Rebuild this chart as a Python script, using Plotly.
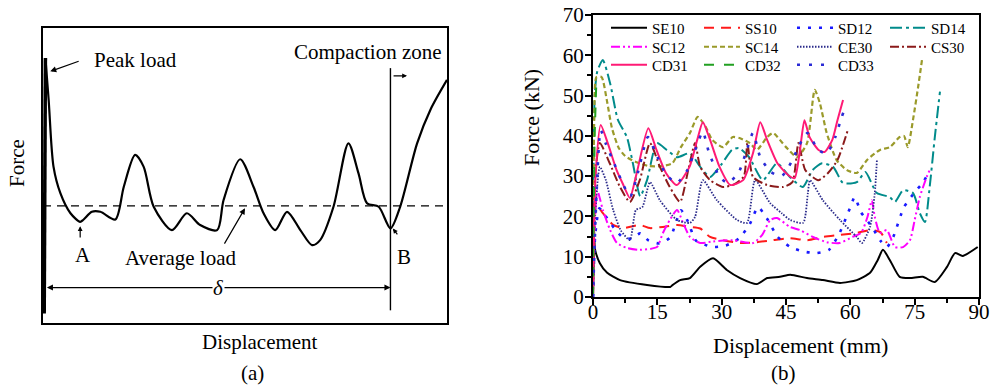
import plotly.graph_objects as go

# ---------------- Panel (a): schematic force-displacement curve ----------------
a_rise_x = [0.3, 0.6]
a_rise_y = [3.2, 89.8]
a_x = [0.6, 1.4, 2.6, 4.3, 6.8, 9.2, 10.0, 12.1, 14.2, 17.9, 20.0, 22.8, 24.9, 27.4, 31.9,
       35.6, 38.9, 43.1, 44.7, 48.8, 52.1, 54.6, 57.5, 60.4, 63.7, 66.6, 68.6, 71.9, 75.6,
       78.1, 80.2, 83.1, 86.0, 88.4, 92.6, 95.9, 100.0]
a_y = [89.8, 75.6, 53.0, 44.0, 37.2, 34.3, 35.0, 37.7, 37.7, 35.1, 46.2, 57.0, 53.0, 39.4, 31.5,
       37.2, 33.2, 31.5, 41.7, 55.5, 46.2, 37.2, 31.5, 37.7, 31.5, 26.4, 28.1, 39.4, 60.9,
       50.7, 40.6, 39.4, 32.1, 39.4, 60.9, 72.3, 82.4]
avg_load = 39.7
compaction_x = 86.0
delta_y = 12.0

# ---------------- Panel (b): measured curves ----------------
SE10_x = [0, 0.3, 0.5, 1.6, 3.3, 6.3, 12.6, 18, 18.6, 20.3, 22.6, 25, 28, 31.2, 34.3, 38.2, 40.6,
          43.6, 46, 49.9, 53.6, 57.6, 61.5, 64.6, 66.4, 67.6, 69.2, 71.5, 73.9, 76.9, 79.7, 82.5,
          84.4, 86.2, 89.7]
SE10_y = [0, 14, 11.7, 8.4, 6, 4.2, 3, 2.5, 3, 4.2, 4.7, 7.5, 9.6, 6.7, 4.7, 3.2, 4.7,
          5, 5.5, 4.7, 4.2, 3.5, 4.2, 6, 9.2, 11.7, 9.2, 5, 4.7, 5, 3.7, 7.4,
          10.9, 10.2, 12.4]

SS10_x = [0, 0.5, 2.3, 4.7, 7, 10.9, 13.3, 16.3, 19.6, 22.6, 25, 27.3, 30.3, 34.3, 38.2, 41.9,
          45.9, 49.9, 53.6, 57.6, 61.5, 64.6, 67, 68.5]
SS10_y = [0, 23.3, 20.8, 17.9, 17.1, 17.9, 17.1, 17.4, 17.9, 17.4, 17, 14.9, 14.1, 13.4, 13.6, 14.1,
          14.6, 14.1, 14.9, 15.4, 15.9, 16.6, 16.1, 13.4]

SD12_x = [0, 0.5, 1.5, 3, 5, 7, 9, 11, 13, 15.5, 18, 20.5, 22, 24, 26, 28, 31, 34, 36.5, 38.5,
          40.5, 43, 46, 49, 52, 55, 57.5, 60, 61, 62.5, 65, 67, 68.5, 70, 72.5, 75, 77, 78.5]
SD12_y = [0, 15, 22, 20, 17, 14.8, 14.5, 15.8, 14, 13.3, 14.8, 21.5, 19, 14, 13, 12.4, 12.8, 14.5, 18, 22.3,
          19.6, 15, 12.4, 11.3, 10.9, 11.7, 15.9, 22.3, 24.8, 21, 17.5, 14, 12.4, 14.9, 22.3, 26, 28.5, 31.5]

SD14_x = [0, 0.4, 1, 2.3, 4, 5.8, 7.9, 9.3, 11, 12.6, 14.9, 17.2, 19.6, 22.6, 25, 27.3, 30, 32.4,
          34, 36.4, 39.6, 42.9, 45.9, 48.9, 51.2, 53.4, 56, 58.3, 61.5, 63.5, 66.2, 69.2, 70.4, 72.3,
          74.6, 76.2, 77.4, 78.5, 79.7, 80.9]
SD14_y = [0, 50, 56, 58.8, 53, 44, 39.7, 33.2, 25, 29, 38.2, 36.5, 34.7, 35.7, 32.3, 29.8, 33, 36.5,
          37, 34.7, 29, 33.2, 29.8, 27.3, 31.5, 33.2, 32.3, 28.3, 28.5, 31, 25.8, 24.8, 23.6, 26.5,
          25.8, 20.8, 18.6, 27.3, 39.7, 51]

SC12_x = [0, 0.5, 1, 2.3, 4, 5.6, 7.9, 10.9, 14.9, 16.3, 17.9, 19.6, 21, 22.6, 25, 28, 32.6, 37.3,
          39.5, 41.3, 42.9, 45.9, 48.3, 51.3, 54.5, 57.5, 60.5, 62.5, 64, 65, 65.7, 66.9, 68.5,
          70.4, 72.3, 73.9, 75, 76.2, 77.8, 78.5]
SC12_y = [0, 20, 26.5, 21.6, 16.6, 13.4, 12.2, 11.7, 12.4, 15.9, 19.1, 21.6, 18.4, 14.9, 13.4, 13.8, 14.1, 13.4,
          15.5, 19.1, 19.6, 17.4, 16.6, 14.9, 13.6, 13.4, 14.9, 15.9, 19.9, 24, 19.9, 15.9, 16.6,
          12.4, 12.4, 14.1, 19.1, 24.8, 29.8, 31.5]

SC14_x = [0, 0.3, 0.8, 2, 3.2, 4.4, 6, 7.5, 10, 13, 16, 18.5, 20.5, 22.6, 24.4, 26.3, 27.8, 30.3,
          32.6, 34.3, 36.6, 38.2, 40.6, 42, 45, 47.6, 49.9, 51.7, 52.9, 54.5, 56.8, 59.2, 61.5,
          63.9, 66.9, 69.2, 71.5, 72.5, 73.4, 74.6, 75.8, 76.7]
SC14_y = [0, 45, 54.6, 54.6, 49, 42, 37, 35, 33.5, 32.5, 32.5, 33.2, 37.2, 40.7, 44.7, 42.2, 39, 37.2,
          39.7, 39.4, 38.2, 36.5, 39.7, 40.7, 37.2, 34.7, 38.2, 51.4, 48.1, 40.7, 34, 31.5, 30.8,
          34, 36.5, 37.2, 39.7, 40, 37.2, 43.9, 52.1, 58.8]

CE30_x = [0, 0.5, 1.6, 3, 4.7, 6.5, 8.6, 10, 11.5, 13.3, 15.6, 19.6, 22.6, 23.8, 25.6, 28.9, 33.6,
          35.9, 37.8, 41.3, 44, 46, 49, 50.1, 50.6, 53.6, 57.6, 61.5, 62.7, 64.6, 65.7, 66.2]
CE30_y = [0, 20, 32.3, 29, 21.6, 16.5, 14.1, 21.6, 22.3, 28.5, 24, 19.1, 18.4, 19.9, 29, 24, 19.1,
          18.4, 29, 23.3, 20.8, 19.1, 18.4, 25.8, 29, 24, 19.1, 14.9, 13.4, 17.4, 25.8, 34]

CS30_x = [0, 0.5, 1.6, 3.9, 6.3, 8.6, 10.9, 13.3, 15.6, 17.9, 20.3, 22.3, 23.8, 25, 27.3, 30.3,
          33, 35.2, 36, 37.3, 40.6, 44.3, 46.5, 47.9, 49.5, 52.5, 54.8, 57, 59.4]
CS30_y = [0, 30, 38.2, 33.2, 27.3, 23.6, 29, 38.2, 32.3, 27.3, 23.6, 32, 38.2, 32.3, 29, 27.3,
          28, 30, 38.2, 29.8, 27.8, 27.3, 28.5, 38.2, 31.5, 29, 30.8, 34, 41.4]

CD31_x = [0, 0.6, 1.8, 3.5, 5.5, 7, 8.6, 10.2, 12.9, 14.8, 17, 19.5, 22.5, 24.3, 25.6, 27.3, 29.5,
          32, 35, 37.3, 39, 40.6, 43, 45.5, 47, 48.2, 49.3, 50.5, 52.6, 54, 55.8, 57, 58.3]
CD31_y = [0, 30, 42.7, 38, 31.5, 28, 24.6, 30.8, 41.9, 36.5, 30.8, 27.8, 32.3, 39, 43.4, 39, 32.3,
          27.8, 29, 35.7, 43.4, 39, 33.2, 30.3, 29.5, 36, 43.9, 39.7, 36.5, 36, 39, 43.9, 48.9]

CD32_x = [0, 0.4, 0.8]
CD32_y = [0, 40, 54]

CD33_x = [0, 0.8, 1.8, 3, 5, 7, 8.7, 10.5, 12.8, 14.5, 17, 19.5, 22, 24, 25.6, 27, 29.5, 31.5,
          34, 36, 37.3, 39, 41.5, 44, 46.5, 48, 50, 52.5, 54.5, 56.5, 58, 59]
CD33_y = [0, 25, 41.4, 38, 33, 28, 25, 31, 39.7, 36, 30.5, 28.3, 31.5, 37, 41, 36, 29.8, 28.3,
          31, 37, 40.7, 34.7, 31, 30, 34, 37.5, 40.7, 36.5, 35.7, 39.7, 44.7, 47.6]

x_ticks = [0, 15, 30, 45, 60, 75, 90]
y_ticks = [0, 10, 20, 30, 40, 50, 60, 70]

SERIF = "Liberation Serif"

series = [
    # name, x, y, color, dash, width, legend row
    ("SE10", SE10_x, SE10_y, "#000000", "solid", 2.0, "legend"),
    ("SS10", SS10_x, SS10_y, "#ff1a1a", "10px,7px", 2.0, "legend"),
    ("SD12", SD12_x, SD12_y, "#1a1aff", "3px,8px", 2.6, "legend"),
    ("SD14", SD14_x, SD14_y, "#008b8b", "12px,4px,3px,4px", 2.0, "legend"),
    ("SC12", SC12_x, SC12_y, "#ff00ff", "9px,3px,2px,3px,2px,3px", 2.0, "legend2"),
    ("SC14", SC14_x, SC14_y, "#9a9a2a", "5px,3px", 2.2, "legend2"),
    ("CE30", CE30_x, CE30_y, "#2a2a8a", "1.5px,1.5px", 1.8, "legend2"),
    ("CS30", CS30_x, CS30_y, "#8b1a1a", "9px,3px,2px,3px", 2.0, "legend2"),
    ("CD31", CD31_x, CD31_y, "#ff1a75", "solid", 2.0, "legend3"),
    ("CD32", CD32_x, CD32_y, "#22a022", "10px,10px", 2.0, "legend3"),
    ("CD33", CD33_x, CD33_y, "#2b2bd5", "3px,9px", 2.6, "legend3"),
]

fig = go.Figure()

# panel (a)
fig.add_trace(go.Scatter(x=a_rise_x, y=a_rise_y, mode="lines", xaxis="x", yaxis="y",
                         line=dict(color="black", width=3.5), showlegend=False, hoverinfo="skip"))
fig.add_trace(go.Scatter(x=a_x, y=a_y, mode="lines", xaxis="x", yaxis="y",
                         line=dict(color="black", width=2.2, shape="spline", smoothing=0.8),
                         showlegend=False, hoverinfo="skip"))
fig.add_trace(go.Scatter(x=[0, 100], y=[avg_load, avg_load], mode="lines", xaxis="x", yaxis="y",
                         line=dict(color="black", width=1.4, dash="8px,6px"),
                         showlegend=False, hoverinfo="skip"))

# panel (b)
for name, xs, ys, color, dash, width, lg in series:
    fig.add_trace(go.Scatter(x=xs, y=ys, mode="lines", name=name, xaxis="x2", yaxis="y2",
                             line=dict(color=color, dash=dash, width=width, shape="spline", smoothing=0.6),
                             legend=lg))

W, H = 991, 386

def px_x(p):
    return p / W

def px_y(p):
    return 1 - p / H

axis_common = dict(showline=True, linecolor="black", mirror=True, showgrid=False, zeroline=False,
                   automargin=False)

legend_common = dict(orientation="h", xanchor="left", yanchor="middle", bgcolor="rgba(0,0,0,0)",
                     font=dict(family=SERIF, size=15, color="black"), entrywidth=42,
                     entrywidthmode="pixels", itemwidth=36, tracegroupgap=0,
                     x=px_x(606), itemclick=False)

fig.update_layout(
    width=W, height=H, margin=dict(l=0, r=0, t=0, b=0, pad=0, autoexpand=False),
    paper_bgcolor="white", plot_bgcolor="white",
    font=dict(family=SERIF, color="black"),
    xaxis=dict(domain=[px_x(43), px_x(447)], range=[0, 100], showticklabels=False, ticks="",
               linewidth=2, **axis_common),
    yaxis=dict(domain=[px_y(323), px_y(28)], range=[0, 100], showticklabels=False, ticks="",
               linewidth=2, **axis_common),
    xaxis2=dict(domain=[px_x(593), px_x(979)], range=[0, 90], tickvals=x_ticks, ticks="outside",
                ticklen=6, tickwidth=2, tickcolor="black", linewidth=2, ticklabelstandoff=-11,
                minor=dict(dtick=7.5, ticklen=4, tickwidth=2, tickcolor="black", ticks="outside"),
                tickfont=dict(family=SERIF, size=21, color="black"), anchor="y2", **axis_common),
    yaxis2=dict(domain=[px_y(297), px_y(15)], range=[0, 70], tickvals=y_ticks, ticks="outside",
                ticklen=6, tickwidth=2, tickcolor="black", linewidth=2, ticklabelstandoff=-3,
                minor=dict(dtick=5, ticklen=4, tickwidth=2, tickcolor="black", ticks="outside"),
                tickfont=dict(family=SERIF, size=21, color="black"), anchor="x2", **axis_common),
    legend=dict(y=px_y(28), **legend_common),
    legend2=dict(y=px_y(47), **legend_common),
    legend3=dict(y=px_y(65), **legend_common),
    shapes=[
        dict(type="line", xref="x", yref="y", x0=compaction_x, x1=compaction_x, y0=4.3, y1=86.4,
             line=dict(color="black", width=1.4)),
    ],
)

ann = []
txt = dict(family=SERIF, size=21, color="black")
C = dict(xanchor="center", yanchor="middle")
# panel (a) labels
ann.append(dict(xref="x", yref="y", x=12.1, y=89.2, text="Peak load", showarrow=False,
                xanchor="left", yanchor="middle", font=txt))
ann.append(dict(xref="x", yref="y", x=1.8, y=85.3, ax=9.2, ay=88.9, axref="x", ayref="y",
                text="", showarrow=True, arrowhead=2, arrowsize=1, arrowwidth=1.2, arrowcolor="black"))
ann.append(dict(xref="x", yref="y", x=80.4, y=92.0, text="Compaction zone", showarrow=False,
                font=txt, **C))
ann.append(dict(xref="x", yref="y", x=90.1, y=83.8, ax=86.4, ay=83.8, axref="x", ayref="y",
                text="", showarrow=True, arrowhead=2, arrowsize=0.8, arrowwidth=1.2, arrowcolor="black"))
ann.append(dict(xref="x", yref="y", x=10.0, y=23.0, text="A", showarrow=False, font=txt, **C))
ann.append(dict(xref="x", yref="y", x=9.2, y=32.8, ax=9.2, ay=28.5, axref="x", ayref="y",
                text="", showarrow=True, arrowhead=2, arrowsize=0.8, arrowwidth=1.2, arrowcolor="black"))
ann.append(dict(xref="x", yref="y", x=34.0, y=21.9, text="Average load", showarrow=False, font=txt, **C))
ann.append(dict(xref="x", yref="y", x=50.0, y=38.9, ax=44.7, ay=26.4, axref="x", ayref="y",
                text="", showarrow=True, arrowhead=2, arrowsize=1, arrowwidth=1.2, arrowcolor="black"))
ann.append(dict(xref="x", yref="y", x=89.3, y=22.4, text="B", showarrow=False, font=txt, **C))
ann.append(dict(xref="x", yref="y", x=86.6, y=32.0, ax=88.0, ay=29.5, axref="x", ayref="y",
                text="", showarrow=True, arrowhead=2, arrowsize=0.8, arrowwidth=1.2, arrowcolor="black"))
ann.append(dict(xref="x", yref="y", x=compaction_x, y=delta_y, ax=0.6, ay=delta_y, axref="x", ayref="y",
                text="", showarrow=True, arrowhead=2, arrowside="end+start", arrowsize=1,
                arrowwidth=1.2, arrowcolor="black"))
ann.append(dict(xref="x", yref="y", x=43.4, y=delta_y, text="<i>δ</i>", showarrow=False,
                bgcolor="white", font=txt, borderpad=0, **C))
ann.append(dict(xref="paper", yref="paper", x=px_x(17), y=px_y(163), text="Force", textangle=-90,
                showarrow=False, font=txt, **C))
ann.append(dict(xref="paper", yref="paper", x=px_x(260), y=px_y(342), text="Displacement",
                showarrow=False, font=txt, **C))
ann.append(dict(xref="paper", yref="paper", x=px_x(252), y=px_y(373), text="(a)",
                showarrow=False, font=txt, **C))
# panel (b) labels
ann.append(dict(xref="paper", yref="paper", x=px_x(532), y=px_y(118), text="Force (kN)", textangle=-90,
                showarrow=False, font=dict(family=SERIF, size=22, color="black"), **C))
ann.append(dict(xref="paper", yref="paper", x=px_x(800), y=px_y(345), text="Displacement (mm)",
                showarrow=False, font=dict(family=SERIF, size=22, color="black"), **C))
ann.append(dict(xref="paper", yref="paper", x=px_x(783), y=px_y(373), text="(b)",
                showarrow=False, font=txt, **C))
fig.update_layout(annotations=ann)

fig.write_html("out.html", config={"displayModeBar": False},
               post_script="document.body.style.margin='0px';")
